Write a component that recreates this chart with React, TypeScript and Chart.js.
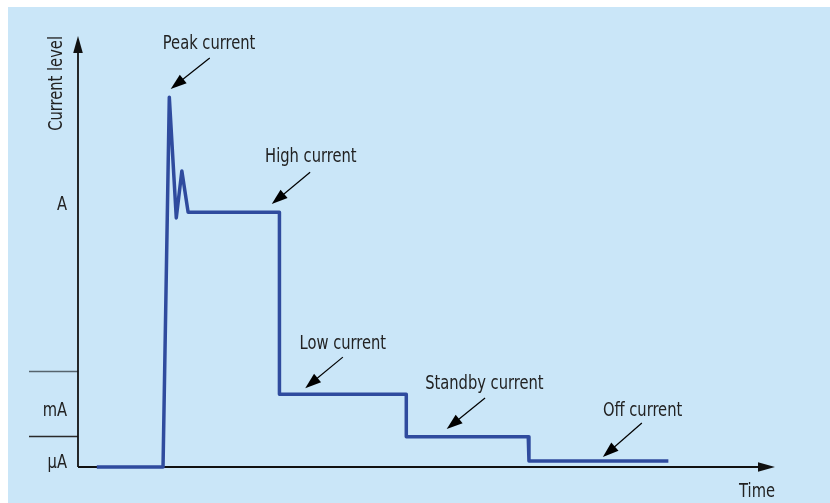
import React, { useEffect, useRef } from "react";
import { Chart, registerables } from "chart.js";

Chart.register(...registerables);

// Time axis (arbitrary units 0..100) and current level (arbitrary units 0..100)
const timePoints = [2.7, 12.2, 13.1, 14.1, 14.9, 15.8, 28.9, 28.9, 47.1, 47.1, 64.6, 64.7, 84.7];
const levelPoints = [0, 0, 85.8, 57.8, 68.7, 59.1, 59.1, 16.9, 16.9, 7.0, 7.0, 1.4, 1.4];

// Y band labels and band boundaries
const bandLabels = ["A", "mA", "µA"];
const bandLabelLevels = [60.8, 13.0, 1.0];
const bandBoundaries = [22.3, 7.2];

// Annotations
const annoTexts = ["Peak current", "High current", "Low current", "Standby current", "Off current"];
const annoTextX = [18.8, 33.4, 38.0, 58.3, 81.0];
const annoTextY = [98.2, 71.8, 28.6, 19.3, 13.0];
const annoFromX = [18.9, 33.3, 38.0, 58.4, 80.9];
const annoFromY = [94.9, 68.4, 25.5, 16.0, 10.2];
const annoToX = [13.3, 27.8, 32.6, 52.9, 75.3];
const annoToY = [87.7, 61.0, 18.3, 8.8, 2.3];

const axisTitleX = "Time";
const axisTitleY = "Current level";

const FONT = '"DejaVu Sans Condensed", "Liberation Sans", sans-serif';
const FONT_SIZE = 19;
const SX = 0.86; // horizontal compression to match the narrow face
const BG = "#cae6f8";
const LINE = "#2f4b9e";
const TXT = "#222";

function drawText(ctx: CanvasRenderingContext2D, t: string, x: number, y: number, align: CanvasTextAlign, rot = 0) {
  ctx.save();
  ctx.translate(x, y);
  if (rot) ctx.rotate(rot);
  ctx.scale(SX, 1);
  ctx.font = `${FONT_SIZE}px ${FONT}`;
  ctx.textAlign = align;
  ctx.textBaseline = "middle";
  ctx.fillText(t, 0, 0);
  ctx.restore();
}

function arrowHead(ctx: CanvasRenderingContext2D, fx: number, fy: number, tx: number, ty: number, len: number, half: number) {
  const a = Math.atan2(ty - fy, tx - fx);
  const bx = tx - len * Math.cos(a);
  const by = ty - len * Math.sin(a);
  ctx.beginPath();
  ctx.moveTo(tx, ty);
  ctx.lineTo(bx + half * Math.sin(a), by - half * Math.cos(a));
  ctx.lineTo(bx - half * Math.sin(a), by + half * Math.cos(a));
  ctx.closePath();
  ctx.fill();
}

const decorPlugin = {
  id: "decor",
  beforeDatasetsDraw(chart: any) {
    const ctx = chart.ctx as CanvasRenderingContext2D;
    const xs = chart.scales.x;
    const ys = chart.scales.y;
    const x0 = xs.left;
    const y0 = ys.bottom;
    ctx.save();
    // band boundary ticks
    bandBoundaries.forEach((v, i) => {
      const py = Math.round(ys.getPixelForValue(v)) + 0.5;
      ctx.strokeStyle = i === 0 ? "#56646d" : "#2a2a2a";
      ctx.lineWidth = 1.3;
      ctx.beginPath();
      ctx.moveTo(x0 - 49, py);
      ctx.lineTo(x0, py);
      ctx.stroke();
    });
    // axes
    ctx.strokeStyle = "#111";
    ctx.fillStyle = "#111";
    ctx.lineWidth = 1.8;
    ctx.beginPath();
    ctx.moveTo(x0, y0);
    ctx.lineTo(x0, ys.top + 12);
    ctx.stroke();
    arrowHead(ctx, x0, y0, x0, ys.top, 17, 4.8);
    ctx.beginPath();
    ctx.moveTo(x0, y0);
    ctx.lineTo(xs.right - 12, y0);
    ctx.stroke();
    arrowHead(ctx, x0, y0, xs.right, y0, 17, 4.8);
    // band labels
    ctx.fillStyle = TXT;
    bandLabels.forEach((t, i) => {
      drawText(ctx, t, x0 - 11, ys.getPixelForValue(bandLabelLevels[i]), "right");
    });
    // axis titles
    drawText(ctx, axisTitleX, xs.right, y0 + 25, "right");
    drawText(ctx, axisTitleY, x0 - 21, ys.top, "right", -Math.PI / 2);
    ctx.restore();
  },
  afterDraw(chart: any) {
    const ctx = chart.ctx as CanvasRenderingContext2D;
    const xs = chart.scales.x;
    const ys = chart.scales.y;
    ctx.save();
    annoTexts.forEach((t, i) => {
      ctx.fillStyle = TXT;
      drawText(ctx, t, xs.getPixelForValue(annoTextX[i]), ys.getPixelForValue(annoTextY[i]), "center");
      const fx = xs.getPixelForValue(annoFromX[i]);
      const fy = ys.getPixelForValue(annoFromY[i]);
      const tx = xs.getPixelForValue(annoToX[i]);
      const ty = ys.getPixelForValue(annoToY[i]);
      ctx.strokeStyle = "#000";
      ctx.lineWidth = 1.2;
      ctx.beginPath();
      ctx.moveTo(fx, fy);
      const a = Math.atan2(ty - fy, tx - fx);
      ctx.lineTo(tx - 10 * Math.cos(a), ty - 10 * Math.sin(a));
      ctx.stroke();
      ctx.fillStyle = "#000";
      arrowHead(ctx, fx, fy, tx, ty, 16, 5.5);
    });
    ctx.restore();
  },
};

export default function App() {
  const ref = useRef<HTMLCanvasElement | null>(null);
  useEffect(() => {
    if (!ref.current) return;
    const data = timePoints.map((x, i) => ({ x, y: levelPoints[i] }));
    const chart = new Chart(ref.current, {
      type: "line",
      data: {
        datasets: [
          {
            data,
            borderColor: LINE,
            borderWidth: 3.5,
            pointRadius: 0,
            tension: 0,
            fill: false,
            clip: false as any,
            borderJoinStyle: "round",
          },
        ],
      },
      options: {
        animation: false,
        responsive: false,
        maintainAspectRatio: false,
        layout: { padding: { left: 70, right: 55, top: 29, bottom: 36 } },
        plugins: { legend: { display: false }, tooltip: { enabled: false } },
        scales: {
          x: { type: "linear", min: 0, max: 100, display: false },
          y: { type: "linear", min: 0, max: 100, display: false },
        },
      },
      plugins: [decorPlugin],
    });
    return () => chart.destroy();
  }, []);
  return (
    <div style={{ position: "fixed", left: 8, top: 7, width: 822, height: 496, background: BG }}>
      <canvas ref={ref} width={822} height={496} style={{ display: "block" }} />
    </div>
  );
}
